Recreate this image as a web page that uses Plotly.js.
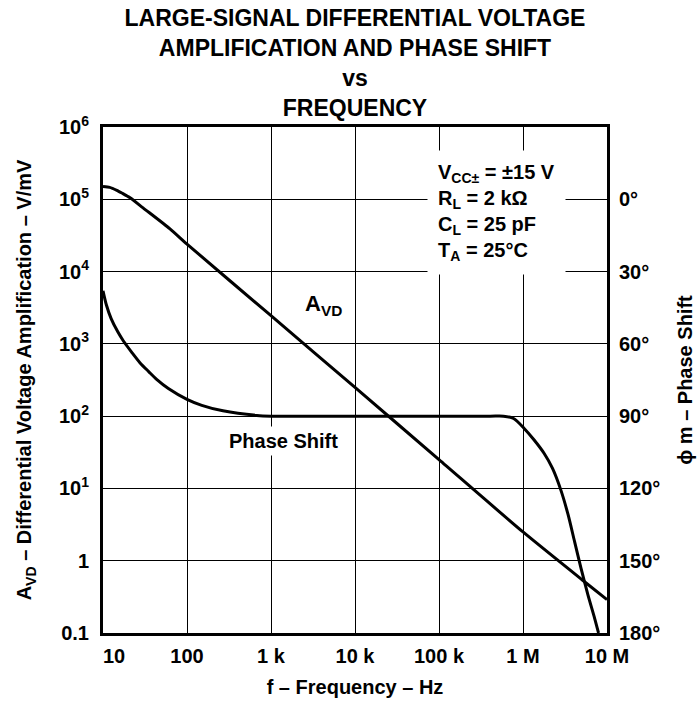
<!DOCTYPE html>
<html>
<head>
<meta charset="utf-8">
<script src="https://cdn.plot.ly/plotly-3.0.1.min.js"></script>
<style>html,body{margin:0;padding:0;background:#fff;}#chart{width:700px;height:702px;}</style>
</head>
<body>
<div id="chart"></div>
<script>
// Open-loop gain A_VD (V/mV) vs frequency (Hz)
const avdFreq = [10, 12, 14.6, 17, 21, 30, 62.7, 100, 1000, 10000, 100000, 1000000, 5000000, 10000000];
const avdValue = [150000, 146000, 133000, 121000, 105000, 76000, 39000, 24000, 2450, 250, 25, 2.5, 0.55, 0.29];

// Phase shift (degrees) vs frequency (Hz)
const phaseFreq = [10, 11, 12.5, 15, 17.5, 22, 27.5, 35, 43.5, 60, 100, 150, 268, 676, 1000, 10000, 405000, 586000, 773000, 1020000, 1350000, 1780000, 2240000, 2830000, 3430000, 4100000, 4900000, 5940000, 7140000, 7930000];
const phaseDeg = [38, 44, 49.5, 55, 58.8, 63.5, 67.8, 71.5, 74.7, 78.5, 83, 85.5, 87.8, 89.7, 90, 90, 90, 90, 91, 94.9, 99.8, 105.4, 111.6, 120.8, 130.7, 141.9, 153.1, 164.3, 174, 180];

// Axis ticks
const xTickVals = [10, 100, 1000, 10000, 100000, 1000000, 10000000];
const xTickText = ['\u00a0\u00a0\u00a0\u00a010', '100', '1 k', '10 k', '100 k', '1 M', '10 M'];
const yTickVals = [0.1, 1, 10, 100, 1000, 10000, 100000, 1000000];
const yTickText = ['0.1', '1', '10<sup>1</sup>', '10<sup>2</sup>', '10<sup>3</sup>', '10<sup>4</sup>', '10<sup>5</sup>', '10<sup>6</sup>'];
const phaseTickVals = [0, 30, 60, 90, 120, 150, 180];
const phaseTickText = ['0°', '30°', '60°', '90°', '120°', '150°', '180°'];

const FONT = 'Liberation Sans, Arial, sans-serif';
const bold = (size) => ({family: FONT, size: size, color: '#000', weight: 700});

const traces = [
  {
    x: avdFreq, y: avdValue, type: 'scatter', mode: 'lines',
    line: {color: '#000', width: 3, shape: 'spline', smoothing: 0.6},
    hoverinfo: 'skip', showlegend: false
  },
  {
    x: phaseFreq, y: phaseDeg, type: 'scatter', mode: 'lines', yaxis: 'y2',
    line: {color: '#000', width: 3, shape: 'spline', smoothing: 0.8},
    hoverinfo: 'skip', showlegend: false
  }
];

const layout = {
  width: 700, height: 702,
  margin: {l: 103, r: 93, t: 127, b: 69, pad: 0},
  paper_bgcolor: '#fff', plot_bgcolor: '#fff',
  font: bold(20),
  title: {
    text: 'LARGE-SIGNAL DIFFERENTIAL VOLTAGE<br>AMPLIFICATION AND PHASE SHIFT<br>vs<br>FREQUENCY',
    font: bold(23), x: 0.5, xref: 'paper', y: 0.963, yref: 'container', yanchor: 'top'
  },
  xaxis: {
    type: 'log', range: [1, 7],
    tickvals: xTickVals, ticktext: xTickText, tickfont: bold(20), ticklabelstandoff: 3,
    ticks: '', showgrid: true, gridcolor: '#000', gridwidth: 1,
    showline: true, linecolor: '#000', linewidth: 3, mirror: true, zeroline: false,
    title: {text: 'f – Frequency – Hz', font: bold(20), standoff: 14}
  },
  yaxis: {
    type: 'log', range: [-1, 6],
    tickvals: yTickVals, ticktext: yTickText, tickfont: bold(20), ticklabelstandoff: 7,
    ticks: '', showgrid: true, gridcolor: '#000', gridwidth: 1,
    showline: true, linecolor: '#000', linewidth: 3, mirror: true, zeroline: false,
    title: {text: 'A<sub>VD</sub> – Differential Voltage Amplification – V/mV', font: bold(20), standoff: 22}
  },
  yaxis2: {
    overlaying: 'y', side: 'right', range: [180, -30],
    tickvals: phaseTickVals, ticktext: phaseTickText, tickfont: bold(20), ticklabelstandoff: 11,
    ticks: '', showgrid: false, zeroline: false, showline: false,
    title: {text: 'ϕ m – Phase Shift', font: bold(20), standoff: 18}
  },
  annotations: [
    {
      xref: 'paper', yref: 'paper', x: 0.643, y: 0.955, xanchor: 'left', yanchor: 'top',
      align: 'left', showarrow: false, bgcolor: '#fff', borderpad: 10,
      text: 'V<sub>CC±</sub> = ±15 V<br>R<sub>L</sub> = 2 kΩ<br>C<sub>L</sub> = 25 pF<br>T<sub>A</sub> = 25°C',
      font: bold(20)
    },
    {
      xref: 'x', yref: 'y', x: Math.log10(4200), y: Math.log10(3500), xanchor: 'center', yanchor: 'middle',
      showarrow: false, text: 'A<sub>VD</sub>', font: bold(22)
    },
    {
      xref: 'x', yref: 'y', x: Math.log10(1400), y: Math.log10(45), xanchor: 'center', yanchor: 'middle',
      showarrow: false, text: 'Phase Shift', font: bold(20), bgcolor: '#fff', borderpad: 3
    }
  ]
};

Plotly.newPlot('chart', traces, layout, {staticPlot: true, displayModeBar: false});
</script>
</body>
</html>
